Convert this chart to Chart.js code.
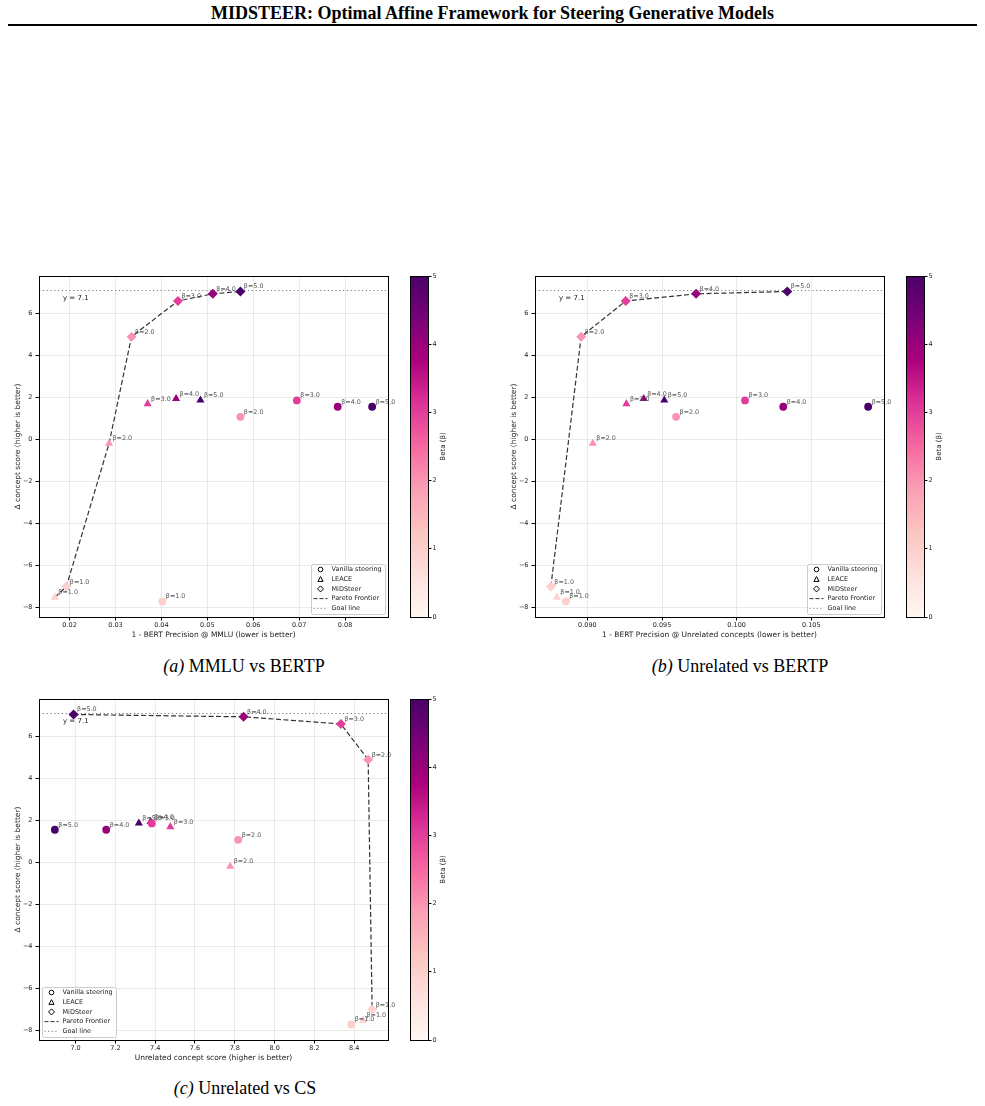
<!DOCTYPE html>
<html>
<head>
<meta charset="utf-8">
<script src="https://cdn.jsdelivr.net/npm/chart.js@4.4.0/dist/chart.umd.min.js"></script>
<style>
  body { margin: 0; background: #fff; width: 985px; height: 1106px; position: relative; overflow: hidden; }
  canvas { position: absolute; }
  .title { position: absolute; left: 0; width: 985px; top: 3px; line-height: 20px; text-align: center; font: bold 18px "Liberation Serif", serif; }
  .rule { position: absolute; left: 8px; width: 969px; top: 24px; border-top: 2px solid #000; }
  .cap { position: absolute; width: 400px; line-height: 22px; text-align: center; font: 18px "Liberation Serif", serif; }
  .cap i { font-style: italic; }
</style>
</head>
<body>
<div class="title">MIDSTEER: Optimal Affine Framework for Steering Generative Models</div>
<div class="rule"></div>

<canvas id="chartA" width="395" height="385" style="left:0;top:266px"></canvas>
<canvas id="barA" width="60" height="385" style="left:400px;top:266px"></canvas>
<canvas id="chartB" width="395" height="385" style="left:496px;top:266px"></canvas>
<canvas id="barB" width="60" height="385" style="left:896px;top:266px"></canvas>
<canvas id="chartC" width="395" height="385" style="left:0;top:689px"></canvas>
<canvas id="barC" width="60" height="385" style="left:400px;top:689px"></canvas>

<div class="cap" style="left:44px;top:656px"><i>(a)</i> MMLU vs BERTP</div>
<div class="cap" style="left:540px;top:656px"><i>(b)</i> Unrelated vs BERTP</div>
<div class="cap" style="left:45px;top:1078px"><i>(c)</i> Unrelated vs CS</div>

<script>
const betas = [1, 2, 3, 4, 5];

// Δ concept score (same for every panel)
const vanillaDelta = [-7.72, 1.08, 1.86, 1.56, 1.56];
const leaceDelta = [-7.52, -0.19, 1.70, 1.94, 1.87];
const midDelta = [-7.01, 4.90, 6.60, 6.94, 7.05];
const goal = 7.1;

// 1 - BERT precision @ MMLU
const mmluVanilla = [0.0402, 0.0572, 0.0695, 0.0784, 0.0859];
const mmluLeace = [0.0168, 0.0286, 0.0370, 0.0432, 0.0485];
const mmluMid = [0.0193, 0.0335, 0.0436, 0.0512, 0.0572];

// 1 - BERT precision @ unrelated concepts
const unrelVanilla = [0.08855, 0.09594, 0.10056, 0.10312, 0.10881];
const unrelLeace = [0.08795, 0.09036, 0.09261, 0.09377, 0.09515];
const unrelMid = [0.08755, 0.08958, 0.09257, 0.09728, 0.10339];

// unrelated concept score
const csVanilla = [8.385, 7.817, 7.383, 7.154, 6.896];
const csLeace = [8.444, 7.777, 7.476, 7.377, 7.318];
const csMid = [8.490, 8.470, 8.333, 7.844, 6.990];

// pareto frontier, as method+beta keys
const paretoA = ["L1", "M1", "L2", "M2", "M3", "M4", "M5"];
const paretoB = ["M1", "M2", "M3", "M4", "M5"];
const paretoC = ["M5", "M4", "M3", "M2", "M1"];

const xTicksA = [0.02, 0.03, 0.04, 0.05, 0.06, 0.07, 0.08];
const xTicksB = [0.090, 0.095, 0.100, 0.105];
const xTicksC = [7.0, 7.2, 7.4, 7.6, 7.8, 8.0, 8.2, 8.4];
const yTicks = [-8, -6, -4, -2, 0, 2, 4, 6];
const betaTicks = [0, 1, 2, 3, 4, 5];

const legendNames = ["Vanilla steering", "LEACE", "MiDSteer", "Pareto Frontier", "Goal line"];
const rdpu = ["#fff7f3", "#fde0dd", "#fcc5c0", "#fa9fb5", "#f768a1", "#dd3497", "#ae017e", "#7a0177", "#49006a"];

Chart.defaults.font.family = "'DejaVu Sans', sans-serif";

const hex = (h) => [1, 3, 5].map((i) => parseInt(h.slice(i, i + 2), 16));
const cmap = (t) => {
  const p = Math.min(Math.max(t, 0), 1) * (rdpu.length - 1);
  const i = Math.min(Math.floor(p), rdpu.length - 2);
  const f = p - i;
  const a = hex(rdpu[i]), b = hex(rdpu[i + 1]);
  return `rgb(${a.map((v, k) => Math.round(v + (b[k] - v) * f)).join(",")})`;
};
const betaMax = betaTicks[betaTicks.length - 1];
const pointColors = betas.map((b) => cmap(b / betaMax));

const padRange = (vals) => {
  const lo = Math.min(...vals), hi = Math.max(...vals), m = (hi - lo) * 0.05;
  return [lo - m, hi + m];
};
const pts = (xs, ys) => xs.map((x, i) => ({ x, y: ys[i], beta: betas[i] }));
const minus = (v) => (v < 0 ? "\u2212" : "") + Math.abs(v);
const align = (v) => Math.round(v - 0.5) + 0.5;

const frame = {
  id: "frame",
  afterDraw(chart) {
    const { ctx, chartArea: a } = chart;
    ctx.save();
    ctx.strokeStyle = "#000";
    ctx.lineWidth = 1;
    const l = align(a.left), t = align(a.top), r = align(a.right), b = align(a.bottom);
    ctx.strokeRect(l, t, r - l, b - t);
    ctx.restore();
  },
};

const betaLabels = {
  id: "betaLabels",
  afterDatasetsDraw(chart) {
    const { ctx } = chart;
    ctx.save();
    ctx.font = "6.4px 'DejaVu Sans'";
    ctx.fillStyle = "#555";
    ctx.textAlign = "left";
    ctx.textBaseline = "bottom";
    chart.data.datasets.forEach((ds, di) => {
      if (!ds.betaLabels) return;
      chart.getDatasetMeta(di).data.forEach((el, i) => {
        ctx.fillText("\u03b2=" + ds.data[i].beta.toFixed(1), el.x + 3.5, el.y - 1.5);
      });
    });
    // goal line text
    const a = chart.chartArea;
    ctx.font = "7px 'DejaVu Sans'";
    ctx.fillStyle = "#222";
    ctx.textBaseline = "middle";
    ctx.fillText("y = " + goal, a.left + 24, chart.scales.y.getPixelForValue(goal) + 7.5);
    ctx.restore();
  },
};

const boxLegend = {
  id: "boxLegend",
  afterDraw(chart, args, opts) {
    const { ctx, chartArea: a } = chart;
    const w = 74, h = 50;
    const x0 = opts.corner === "bl" ? a.left + 3 : a.right - 3 - w;
    const y0 = a.bottom - 3 - h;
    ctx.save();
    ctx.fillStyle = "rgba(255,255,255,0.85)";
    ctx.strokeStyle = "#ccc";
    ctx.lineWidth = 1;
    ctx.beginPath();
    ctx.roundRect(x0 + 0.5, y0 + 0.5, w, h, 2);
    ctx.fill();
    ctx.stroke();
    ctx.font = "6.5px 'DejaVu Sans'";
    ctx.textBaseline = "middle";
    ctx.textAlign = "left";
    legendNames.forEach((name, i) => {
      const cy = y0 + 5.5 + i * 9.7;
      const mx = x0 + 9.5;
      ctx.strokeStyle = "#000";
      ctx.fillStyle = "#fff";
      ctx.lineWidth = 1;
      ctx.setLineDash([]);
      ctx.beginPath();
      if (i === 0) {
        ctx.arc(mx, cy, 2.3, 0, Math.PI * 2);
      } else if (i === 1) {
        ctx.moveTo(mx, cy - 2.6); ctx.lineTo(mx + 2.6, cy + 2.2); ctx.lineTo(mx - 2.6, cy + 2.2); ctx.closePath();
      } else if (i === 2) {
        ctx.moveTo(mx, cy - 3); ctx.lineTo(mx + 3, cy); ctx.lineTo(mx, cy + 3); ctx.lineTo(mx - 3, cy); ctx.closePath();
      }
      if (i < 3) {
        ctx.fill();
        ctx.stroke();
      } else {
        ctx.strokeStyle = i === 3 ? "#333" : "#777";
        ctx.setLineDash(i === 3 ? [4, 2] : [1.2, 2.4]);
        ctx.moveTo(mx - 7, cy); ctx.lineTo(mx + 7, cy);
        ctx.stroke();
      }
      ctx.fillStyle = "#222";
      ctx.fillText(name, x0 + 20.5, cy);
    });
    ctx.restore();
  },
};

const cbTitle = {
  id: "cbTitle",
  afterDraw(chart) {
    const { ctx, chartArea: a } = chart;
    ctx.save();
    ctx.translate(a.right + 15, (a.top + a.bottom) / 2);
    ctx.rotate(-Math.PI / 2);
    ctx.font = "7px 'DejaVu Sans'";
    ctx.fillStyle = "#222";
    ctx.textAlign = "center";
    ctx.textBaseline = "middle";
    ctx.fillText("Beta (\u03b2)", 0, 0);
    ctx.restore();
  },
};

function makePanel(id, cfg) {
  const [xmin, xmax] = padRange([...cfg.v, ...cfg.l, ...cfg.m]);
  const [ymin, ymax] = padRange([...vanillaDelta, ...leaceDelta, ...midDelta]);
  const series = { V: pts(cfg.v, vanillaDelta), L: pts(cfg.l, leaceDelta), M: pts(cfg.m, midDelta) };
  const pareto = cfg.pareto.map((k) => series[k[0]][+k.slice(1) - 1]);
  const marker = (label, data, style, r) => ({
    label, data, pointStyle: style, pointRadius: r, pointHoverRadius: r,
    pointBackgroundColor: pointColors, pointBorderColor: pointColors, pointBorderWidth: 0,
    betaLabels: true, clip: false, order: 0,
  });

  new Chart(document.getElementById(id), {
    type: "scatter",
    data: {
      datasets: [
        marker("Vanilla steering", series.V, "circle", 3.9),
        marker("LEACE", series.L, "triangle", 4.7),
        marker("MiDSteer", series.M, "rectRot", 5),
        {
          label: "Pareto Frontier",
          data: pareto.map((p) => ({ x: p.x, y: p.y })),
          showLine: true, borderColor: "#333", borderWidth: 1.2, borderDash: [5, 2.5],
          pointRadius: 0, order: 1,
        },
        {
          label: "Goal line",
          data: [{ x: xmin, y: goal }, { x: xmax, y: goal }],
          showLine: true, borderColor: "#777", borderWidth: 1.1, borderDash: [1.2, 2.6],
          pointRadius: 0, order: 2,
        },
      ],
    },
    options: {
      responsive: false,
      animation: false,
      devicePixelRatio: 1,
      layout: { padding: { top: 10, right: 7, left: 0, bottom: 0 } },
      plugins: { legend: { display: false }, tooltip: { enabled: false }, boxLegend: { corner: cfg.corner } },
      scales: {
        x: {
          type: "linear", min: xmin, max: xmax,
          afterBuildTicks: (s) => { s.ticks = cfg.xTicks.map((v) => ({ value: v })); },
          afterFit: (s) => { s.height = 34; },
          ticks: { callback: (v) => v.toFixed(cfg.digits), font: { size: 6.5 }, color: "#222", padding: 1, maxRotation: 0, autoSkip: false },
          grid: { color: "rgba(0,0,0,0.08)", tickColor: "#000", tickLength: 3.5 },
          border: { color: "#000" },
          title: { display: true, text: cfg.xTitle, font: { size: 7.5 }, color: "#222", padding: { top: 0, bottom: 11.5 } },
        },
        y: {
          type: "linear", min: ymin, max: ymax,
          afterBuildTicks: (s) => { s.ticks = yTicks.map((v) => ({ value: v })); },
          afterFit: (s) => { s.width = 39; },
          ticks: { callback: minus, font: { size: 6.5 }, color: "#222", padding: 3 },
          grid: { color: "rgba(0,0,0,0.08)", tickColor: "#000", tickLength: 3.5 },
          border: { color: "#000" },
          title: { display: true, text: "\u0394 concept score (higher is better)", font: { size: 7.5 }, color: "#222", padding: { top: 13.5, bottom: 0 } },
        },
      },
    },
    plugins: [frame, betaLabels, boxLegend],
  });
}

function makeBar(id) {
  new Chart(document.getElementById(id), {
    type: "bar",
    data: {
      labels: ["\u03b2"],
      datasets: [{
        data: [betaMax],
        backgroundColor: (c) => {
          const a = c.chart.chartArea;
          if (!a) return rdpu[4];
          const g = c.chart.ctx.createLinearGradient(0, a.bottom, 0, a.top);
          rdpu.forEach((col, i) => g.addColorStop(i / (rdpu.length - 1), col));
          return g;
        },
        barPercentage: 1, categoryPercentage: 1, borderWidth: 0,
      }],
    },
    options: {
      responsive: false,
      animation: false,
      devicePixelRatio: 1,
      layout: { padding: { left: 10, top: 10, bottom: 34, right: 0 } },
      plugins: { legend: { display: false }, tooltip: { enabled: false } },
      scales: {
        x: { display: false },
        y: {
          position: "right", min: 0, max: betaMax,
          afterBuildTicks: (s) => { s.ticks = betaTicks.map((v) => ({ value: v })); },
          afterFit: (s) => { s.width = 32; },
          ticks: { font: { size: 6.5 }, color: "#222", padding: 1 },
          grid: { drawOnChartArea: false, tickColor: "#000", tickLength: 3.5 },
          border: { color: "#000" },
        },
      },
    },
    plugins: [frame, cbTitle],
  });
}

makePanel("chartA", { v: mmluVanilla, l: mmluLeace, m: mmluMid, pareto: paretoA, xTicks: xTicksA, digits: 2, corner: "br",
  xTitle: "1 - BERT Precision @ MMLU (lower is better)" });
makePanel("chartB", { v: unrelVanilla, l: unrelLeace, m: unrelMid, pareto: paretoB, xTicks: xTicksB, digits: 3, corner: "br",
  xTitle: "1 - BERT Precision @ Unrelated concepts (lower is better)" });
makePanel("chartC", { v: csVanilla, l: csLeace, m: csMid, pareto: paretoC, xTicks: xTicksC, digits: 1, corner: "bl",
  xTitle: "Unrelated concept score (higher is better)" });
makeBar("barA");
makeBar("barB");
makeBar("barC");
</script>
</body>
</html>
